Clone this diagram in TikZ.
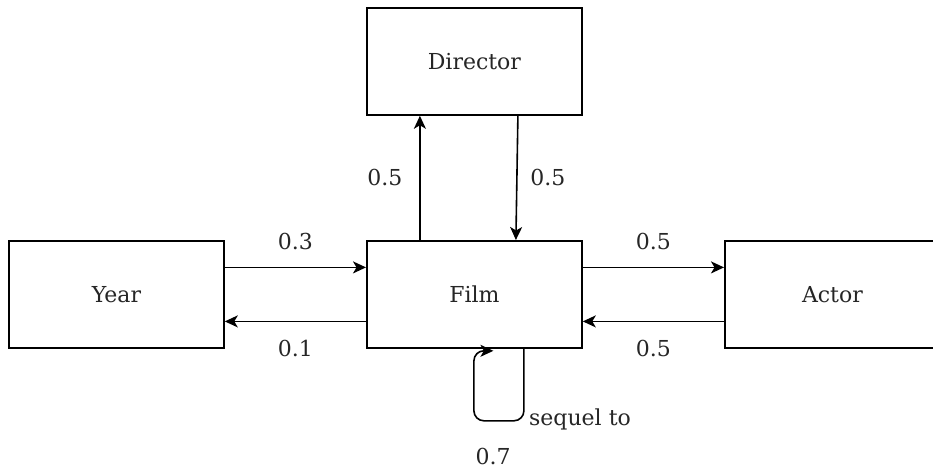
\documentclass[tikz,border=0pt]{standalone}
\usepackage{fontspec}
\setmainfont{DejaVu Serif}
\usetikzlibrary{arrows.meta}
\begin{document}
\begin{tikzpicture}[x=1pt,y=-1pt,
  entity/.style={draw, line width=1.8pt, minimum width=215pt, minimum height=107pt,
    inner sep=0pt, anchor=north west, text=black!85, font=\fontsize{22}{26}\selectfont},
  link/.style={line width=1.6pt, -{Stealth[length=13pt,width=12pt,inset=3.5pt]}},
  weight/.style={font=\fontsize{22}{26}\selectfont, text=black!85, inner sep=0pt}]
\useasboundingbox (0,0) rectangle (933,468);

% entities
\node[entity] (director) at (366,7)   {Director};
\node[entity] (year)     at (8,240)   {Year};
\node[entity] (film)     at (366,240) {Film};
\node[entity] (actor)    at (724,240) {Actor};

% Year <-> Film
\draw[link] ([yshift=27pt]year.east) -- node[weight, midway, yshift=26pt] {0.3} ([yshift=27pt]film.west);
\draw[link] ([yshift=-27pt]film.west) -- node[weight, midway, yshift=-27pt] {0.1} ([yshift=-27pt]year.east);

% Film <-> Actor
\draw[link] ([yshift=27pt]film.east) -- node[weight, midway, yshift=26pt] {0.5} ([yshift=27pt]actor.west);
\draw[link] ([yshift=-27pt]actor.west) -- node[weight, midway, yshift=-27pt] {0.5} ([yshift=-27pt]film.east);

% Film <-> Director
\draw[link] ([xshift=-54.5pt]film.north) -- node[weight, midway, xshift=-35pt] {0.5} ([xshift=-54.5pt]director.south);
\draw[link] ([xshift=43.5pt]director.south) -- node[weight, midway, xshift=31pt] {0.5} ([xshift=41.5pt]film.north);

% self loop: sequel to
\coordinate (loopout) at ([xshift=49.5pt]film.south);
\coordinate (loopin)  at ([xshift=19pt,yshift=-2pt]film.south);
\draw[link, rounded corners=10pt]
  (loopout) -- ([yshift=-72pt]loopout) -- ([xshift=-0.5pt,yshift=-72pt]film.south)
  -- ([xshift=-0.5pt,yshift=-2pt]film.south) -- (loopin);
\node[weight] (seqlabel) at (580,419) {sequel to};
\node[weight] (seqweight) at (493,456) {0.7};
\end{tikzpicture}
\end{document}
